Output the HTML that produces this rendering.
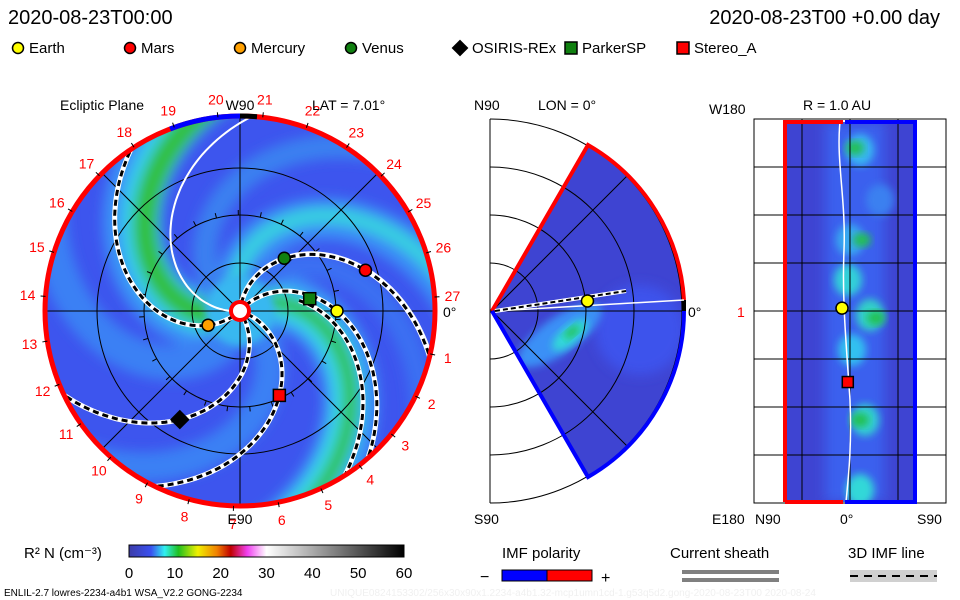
<!DOCTYPE html>
<html><head><meta charset="utf-8"><style>
html,body{margin:0;padding:0;background:#fff}
svg{display:block;font-family:"Liberation Sans",sans-serif}
</style></head><body>
<svg id="s" width="960" height="600" viewBox="0 0 960 600" xmlns="http://www.w3.org/2000/svg">
<defs>
<filter id="bl" x="-20%" y="-20%" width="140%" height="140%"><feGaussianBlur stdDeviation="6"/></filter>
<filter id="bl2" x="-20%" y="-20%" width="140%" height="140%"><feGaussianBlur stdDeviation="4"/></filter>
<clipPath id="cp"><circle cx="240" cy="311" r="195"/></clipPath>
<clipPath id="cw"><path d="M492,311 L588,145 A192,192 0 0 1 588,477 Z"/></clipPath>
<clipPath id="cr"><rect x="785" y="122" width="130" height="380"/></clipPath>
<linearGradient id="cb" x1="0" x2="1">
<stop offset="0" stop-color="#3c3ca8"/><stop offset="0.08" stop-color="#3a50f0"/><stop offset="0.13" stop-color="#30f0f0"/><stop offset="0.18" stop-color="#20c020"/><stop offset="0.25" stop-color="#f0f000"/><stop offset="0.32" stop-color="#f08000"/><stop offset="0.37" stop-color="#c00000"/><stop offset="0.43" stop-color="#f040f0"/><stop offset="0.5" stop-color="#ffffff"/><stop offset="1" stop-color="#000000"/>
</linearGradient>
</defs>
<text x="8" y="24" font-size="20">2020-08-23T00:00</text>
<text x="940" y="24" font-size="20" text-anchor="end">2020-08-23T00 +0.00 day</text>
<g id="legend" font-size="15"></g>

<g id="eclip"></g>
<g id="mer"></g>
<g id="rad"></g>

<g>
<text x="24" y="558" font-size="15">R² N (cm⁻³)</text>
<rect x="129" y="545" width="275" height="12" fill="url(#cb)" stroke="#000" stroke-width="1"/>
<g id="cbt" font-size="15" text-anchor="middle"></g>
</g>
<text x="4" y="596" font-size="10">ENLIL-2.7 lowres-2234-a4b1 WSA_V2.2 GONG-2234</text>
<text x="330" y="596" font-size="10" fill="#f0f0f0">UNIQUE0824153302/256x30x90x1.2234-a4b1.32-mcp1umn1cd-1.g53q5d2.gong-2020-08-23T00   2020-08-24</text>

<g>
<text x="502" y="558" font-size="15">IMF polarity</text>
<text x="480" y="582" font-size="16">−</text>
<rect x="502" y="570" width="45" height="11" fill="#0000ff" stroke="#000"/>
<rect x="547" y="570" width="45" height="11" fill="#ff0000" stroke="#000"/>
<text x="601" y="583" font-size="16">+</text>
</g>
<g>
<text x="670" y="558" font-size="15">Current sheath</text>
<rect x="682" y="570" width="97" height="4" fill="#808080"/>
<rect x="682" y="578" width="97" height="4" fill="#808080"/>
</g>
<g>
<text x="848" y="558" font-size="15">3D IMF line</text>
<rect x="850" y="570" width="87" height="12" fill="#d0d0d0"/>
<line x1="850" y1="576" x2="937" y2="576" stroke="#000" stroke-width="2" stroke-dasharray="8,6"/>
</g>
</svg>
<script>
// ---- data ----
const bodyNames = ["Earth","Mars","Mercury","Venus","OSIRIS-REx","ParkerSP","Stereo_A"];
const bodyColors = ["#ffff00","#ff0000","#ffa000","#108010","#000000","#108010","#ff0000"];
const bodyShapes = ["circle","circle","circle","circle","diamond","square","square"];
const bodyR = [1.0, 1.36, 0.36, 0.71, 1.28, 0.73, 0.96];      // AU
const bodyLon = [0, -18, 156, -50, 119, -10, 65];              // deg, screen-clockwise from Earth direction
const cbTicks = [0,10,20,30,40,50,60];
const carrLabels = [1,2,3,4,5,6,7,8,9,10,11,12,13,14,15,16,17,18,19,20,21,22,23,24,25,26,27];
const merEarthLat = [-6];   // deg
const sphEarth = [0.03, 0];  // lat, lon offset
const sphStereo = [0.05, -0.37];

const NS="http://www.w3.org/2000/svg";
function mk(tag, attrs, parent){const e=document.createElementNS(NS,tag);for(const k in attrs)e.setAttribute(k,attrs[k]);parent.appendChild(e);return e;}
const CX=240, CY=311, AU=97, RO=195, K=0.5;
const rad=d=>d*Math.PI/180;
function px(r,a){return [CX+r*Math.cos(rad(a)), CY+r*Math.sin(rad(a))];}
function spiral(a0,r0,r1){let d="";for(let r=r0;r<=r1;r+=3){const p=px(r,a0+K*r);d+=(d?"L":"M")+p[0].toFixed(1)+","+p[1].toFixed(1);}return d;}
function marker(g,shape,x,y,col,s){
  let e;
  if(shape==="circle") e=mk("circle",{cx:x,cy:y,r:s/2,fill:col,stroke:"#000","stroke-width":1.5},g);
  else if(shape==="square") e=mk("rect",{x:x-s/2,y:y-s/2,width:s,height:s,fill:col,stroke:"#000","stroke-width":1.5},g);
  else e=mk("path",{d:`M${x},${y-s*0.7}L${x+s*0.7},${y}L${x},${y+s*0.7}L${x-s*0.7},${y}Z`,fill:col},g);
  return e;
}
// legend
const lg=document.getElementById("legend");
const lgX=[18,130,240,351,460,571,683];
bodyNames.forEach((n,i)=>{
  const it=mk("g",{},lg);
  
  
  marker(it,bodyShapes[i],lgX[i],48,bodyColors[i],bodyShapes[i]==="circle"?11:12);
  const t=mk("text",{x:lgX[i]+(i==4?12:11),y:53},it);t.textContent=n;
});
// ---- ecliptic plot ----
const ec=document.getElementById("eclip");
const bg=mk("g",{"clip-path":"url(#cp)"},ec);
mk("circle",{cx:CX,cy:CY,r:RO,fill:"#3d55ee"},bg);
const arms=mk("g",{filter:"url(#bl)"},bg);
[[150,"#3a90f6",60],[155,"#38d0ec",38],[158,"#30c040",24],[-32,"#3a98f6",55],[-30,"#38d8e4",30],[-32,"#30c040",14],
 [-110,"#3a8cf6",42],[-112,"#38d0e0",16],[30,"#3a80f4",30],[100,"#3a80f4",35],[-75,"#3a70f2",24],[205,"#3a80f0",24]].forEach(a=>{
  mk("path",{d:spiral(a[0],0,260),fill:"none",stroke:a[1],"stroke-width":a[2]},arms);
});
mk("circle",{cx:CX,cy:CY,r:35,fill:"#38b8f0",filter:"url(#bl2)"},bg);
// grid
const gr=mk("g",{stroke:"#000","stroke-width":1,fill:"none"},ec);


[48,96,143].forEach(r=>mk("circle",{cx:CX,cy:CY,r:r},gr));
[0,45,90,135].forEach(a=>{const p=px(RO,a),q=px(RO,a+180);mk("line",{x1:p[0],y1:p[1],x2:q[0],y2:q[1]},gr);});
for(let a=0;a<360;a+=13.2){const p=px(96,a+5),q=px(101,a+5);mk("line",{x1:p[0],y1:p[1],x2:q[0],y2:q[1]},gr);}
// current sheet
mk("path",{d:spiral(176,8,200),fill:"none",stroke:"#fff","stroke-width":2,"clip-path":"url(#cp)"},ec);
// IMF lines through bodies
const imf=mk("g",{"clip-path":"url(#cp)",fill:"none"},ec);
[0,2,3,4,6,1].forEach(i=>{
  const a0=bodyLon[i]-K*bodyR[i]*AU;
  const d=spiral(a0,8,200);
  const l1=mk("path",{d:d,stroke:"#fff","stroke-width":5},imf);
  
  
  mk("path",{d:d,stroke:"#000","stroke-width":3,"stroke-dasharray":"6,4"},imf);
});
{const d=spiral(-40,60,200);mk("path",{d:d,stroke:"#fff","stroke-width":5},imf);mk("path",{d:d,stroke:"#000","stroke-width":3,"stroke-dasharray":"6,4"},imf);}
// border
mk("circle",{cx:CX,cy:CY,r:RO,fill:"none",stroke:"#ff0000","stroke-width":5},ec);
{const p=px(RO,249),q=px(RO,270);mk("path",{d:`M${p[0]},${p[1]}A${RO},${RO} 0 0 1 ${q[0]},${q[1]}`,fill:"none",stroke:"#0000ff","stroke-width":5},ec);
 const p2=px(RO,270),q2=px(RO,275);mk("path",{d:`M${p2[0]},${p2[1]}A${RO},${RO} 0 0 1 ${q2[0]},${q2[1]}`,fill:"none",stroke:"#000","stroke-width":5},ec);}
// sun
mk("circle",{cx:CX,cy:CY,r:9,fill:"#fff",stroke:"#ff0000","stroke-width":4},ec);
// bodies
bodyNames.forEach((n,i)=>{
  const p=px(bodyR[i]*AU,bodyLon[i]);
  const m=marker(ec,bodyShapes[i],p[0],p[1],bodyColors[i],bodyShapes[i]==="circle"?12:(i==4?14:12));
  
  
});
// carrington labels
const cl=mk("g",{fill:"#ff0000","font-size":14,"text-anchor":"middle"},ec);
carrLabels.forEach((n,i)=>{
  const a=12.7+(n-1)*13.2;const p=px(213,a);const q=px(195,a),q2=px(200,a);
  mk("line",{x1:q[0],y1:q[1],x2:q2[0],y2:q2[1],stroke:"#000"},ec);
  const t=mk("text",{x:p[0],y:p[1]+5},cl);t.textContent=n;
});
[["Ecliptic Plane",60,110,"start"],["W90",240,110,"middle"],["E90",240,524,"middle"]].forEach(s=>{const t=mk("text",{x:s[1],y:s[2],"font-size":14,"text-anchor":s[3]},ec);t.textContent=s[0];});
{const t=mk("text",{x:312,y:110,"font-size":14},ec);t.textContent="LAT = 7.01°";}
{const t=mk("text",{x:443,y:317,"font-size":14},ec);t.textContent="0°";}
// ---- meridional ----
const me=document.getElementById("mer");
const MX=492,MY=311;
const wg=mk("g",{"clip-path":"url(#cw)"},me);
mk("rect",{x:490,y:140,width:200,height:340,fill:"#3e44d2"},wg);
mk("circle",{cx:640,cy:330,r:45,fill:"#3c52ec",filter:"url(#bl)"},wg);
mk("ellipse",{cx:560,cy:335,rx:50,ry:18,fill:"#3a90f6",filter:"url(#bl2)",transform:"rotate(-35 560 335)"},wg);
mk("ellipse",{cx:570,cy:335,rx:22,ry:9,fill:"#30d8d8",filter:"url(#bl2)",transform:"rotate(-40 570 335)"},wg);
mk("ellipse",{cx:572,cy:332,rx:9,ry:4,fill:"#20c050",filter:"url(#bl2)",transform:"rotate(-40 572 332)"},wg);
const mg=mk("g",{stroke:"#000",fill:"none","stroke-width":1},me);
mk("line",{x1:490,y1:119,x2:490,y2:503},mg);
[48,96,144,192].forEach(r=>mk("path",{d:`M490,${MY-r}A${r},${r} 0 0 1 490,${MY+r}`},mg));
mk("line",{x1:490,y1:311,x2:686,y2:311},mg);
mk("line",{x1:492,y1:311,x2:628,y2:175},mg);mk("line",{x1:492,y1:311,x2:628,y2:447},mg);
mk("path",{d:"M492,311 L588,145 A192,192 0 0 1 684,300",fill:"none",stroke:"#ff0000","stroke-width":4},me);
mk("path",{d:"M684,311 A192,192 0 0 1 588,477 L492,311",fill:"none",stroke:"#0000ff","stroke-width":4},me);
mk("line",{x1:684,y1:300,x2:684,y2:311,stroke:"#000","stroke-width":4},me);
mk("line",{x1:495,y1:311,x2:684,y2:300,stroke:"#fff","stroke-width":1.5},me);
mk("line",{x1:495,y1:311,x2:626,y2:291,stroke:"#fff","stroke-width":4},me);
mk("line",{x1:495,y1:311,x2:626,y2:291,stroke:"#000","stroke-width":2,"stroke-dasharray":"5,3"},me);
{const ey=MY+96*Math.sin(rad(merEarthLat[0]));const m=marker(me,"circle",MX+96*Math.cos(rad(merEarthLat[0])),ey,"#ffff00",12);

}
[["N90",474,110],["LON = 0°",538,110],["S90",474,524],["0°",688,317]].forEach(s=>{const t=mk("text",{x:s[1],y:s[2],"font-size":14},me);t.textContent=s[0];});
// ---- 1 AU sphere ----
const ra=document.getElementById("rad");
mk("rect",{x:754,y:119,width:192,height:384,fill:"#fff",stroke:"#000"},ra);
const rg=mk("g",{"clip-path":"url(#cr)"},ra);
mk("rect",{x:785,y:122,width:130,height:380,fill:"#3e44d2"},rg);
mk("rect",{x:825,y:122,width:60,height:380,fill:"#3a60ee",filter:"url(#bl)"},rg);
[[860,150,"#38b8f0"],[850,240,"#38a8f0"],[848,280,"#30d0d8"],[870,315,"#30d0c8"],[852,350,"#30c0f0"],[865,420,"#30d0d0"],[860,490,"#30d8d8"],[880,200,"#3a80f0"]].forEach(b=>mk("ellipse",{cx:b[0],cy:b[1],rx:14,ry:16,fill:b[2],filter:"url(#bl2)"},rg));
[[876,318],[862,240],[860,420],[855,148]].forEach(b=>mk("ellipse",{cx:b[0],cy:b[1],rx:9,ry:7,fill:"#20c050",filter:"url(#bl2)"},rg));
const rgl=mk("g",{stroke:"#000","stroke-width":1},ra);
[167,215,263,311,359,407,455].forEach(y=>mk("line",{x1:754,y1:y,x2:946,y2:y},rgl));
[802,850,898].forEach(x=>mk("line",{x1:x,y1:119,x2:x,y2:503},rgl));
mk("path",{d:"M840,122 C836,160 846,200 844,250 C842,300 846,340 850,400 C852,450 848,480 846,502",fill:"none",stroke:"#fff","stroke-width":1.5},ra);
mk("path",{d:"M785,502 L785,122 L843,122",fill:"none",stroke:"#ff0000","stroke-width":4},ra);
mk("path",{d:"M785,502 L843,502",fill:"none",stroke:"#ff0000","stroke-width":4},ra);
mk("path",{d:"M845,122 L915,122 L915,502 L845,502",fill:"none",stroke:"#0000ff","stroke-width":4},ra);
{const m=marker(ra,"circle",842+sphEarth[1]*96,311-sphEarth[0]*96,"#ffff00",12);}
{const m=marker(ra,"square",843+sphStereo[0]*96,311-sphStereo[1]*192,"#ff0000",11);}
[["R = 1.0 AU",803,110,"#000"],["W180",709,114,"#000"],["E180",712,524,"#000"],["N90",755,524,"#000"],["0°",840,524,"#000"],["S90",917,524,"#000"],["1",737,317,"#ff0000"]].forEach(s=>{const t=mk("text",{x:s[1],y:s[2],"font-size":14,fill:s[3]},ra);t.textContent=s[0];});
// colorbar ticks
const cbt=document.getElementById("cbt");
cbTicks.forEach(v=>{const x=129+v/60*275;const t=mk("text",{x:x,y:578},cbt);t.textContent=v;});
</script>
</body></html>
